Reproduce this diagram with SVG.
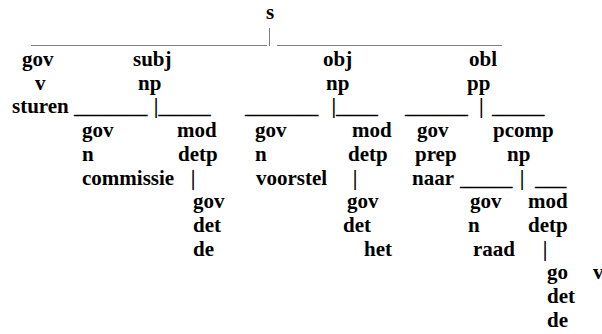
<svg xmlns="http://www.w3.org/2000/svg" width="602" height="334" viewBox="0 0 602 334">
<style>
text{font-family:"Liberation Serif","Times New Roman",serif;font-weight:bold;font-size:21px;fill:#000}
.thin{stroke:#808080;stroke-width:1;fill:none}
</style>
<rect width="602" height="334" fill="#fff"/>
<g id="connectors">
<line class="thin" x1="31" y1="45.5" x2="267" y2="45.5"/>
<line class="thin" x1="269.5" y1="28" x2="269.5" y2="46"/>
<line class="thin" x1="277" y1="45.5" x2="502" y2="45.5"/>
<text x="74" y="113.4">_______</text>
<text x="153.7" y="113.4">|_____</text>
<text x="245" y="113.4">_______</text>
<text x="331.5" y="113.4">|____</text>
<text x="405" y="113.4">______</text>
<text x="479" y="113.4">|</text>
<text x="492" y="113.4">_____</text>
<text x="190.8" y="184.5">|</text>
<text x="352.8" y="184.5">|</text>
<text x="460" y="184.5">_____</text>
<text x="519.8" y="184.5">|</text>
<text x="535" y="184.5">___</text>
<text x="542.8" y="255.6">|</text>
</g>
<g id="node-s"><text x="266" y="18.6">s</text></g>
<g id="node-gov-v"><text x="22" y="66">gov</text><text x="35" y="89.7">v</text><text x="12" y="113.4">sturen</text></g>
<g id="node-subj-np"><text x="133" y="66">subj</text><text x="138" y="89.7">np</text></g>
<g id="node-gov-n-commissie"><text x="82" y="137.1">gov</text><text x="82" y="160.8">n</text><text x="82" y="184.5">commissie</text></g>
<g id="node-mod-detp-1"><text x="177" y="137.1">mod</text><text x="178" y="160.8">detp</text></g>
<g id="node-gov-det-de-1"><text x="193" y="208.2">gov</text><text x="193" y="231.9">det</text><text x="193" y="255.6">de</text></g>
<g id="node-obj-np"><text x="323" y="66">obj</text><text x="326" y="89.7">np</text></g>
<g id="node-gov-n-voorstel"><text x="255" y="137.1">gov</text><text x="255" y="160.8">n</text><text x="256" y="184.5">voorstel</text></g>
<g id="node-mod-detp-2"><text x="352" y="137.1">mod</text><text x="348" y="160.8">detp</text></g>
<g id="node-gov-det-het"><text x="347" y="208.2">gov</text><text x="343" y="231.9">det</text><text x="364" y="255.6">het</text></g>
<g id="node-obl-pp"><text x="469" y="66">obl</text><text x="467" y="89.7">pp</text></g>
<g id="node-gov-prep-naar"><text x="417" y="137.1">gov</text><text x="415" y="160.8">prep</text><text x="412" y="184.5">naar</text></g>
<g id="node-pcomp-np"><text x="493" y="137.1">pcomp</text><text x="507" y="160.8">np</text></g>
<g id="node-gov-n-raad"><text x="470" y="208.2">gov</text><text x="468" y="231.9">n</text><text x="473" y="255.6">raad</text></g>
<g id="node-mod-detp-3"><text x="528" y="208.2">mod</text><text x="528" y="231.9">detp</text></g>
<g id="node-gov-det-de-2"><text x="547" y="279.3">go</text><text x="593" y="279.3">v</text><text x="547" y="303">det</text><text x="547" y="326.7">de</text></g>
</svg>
